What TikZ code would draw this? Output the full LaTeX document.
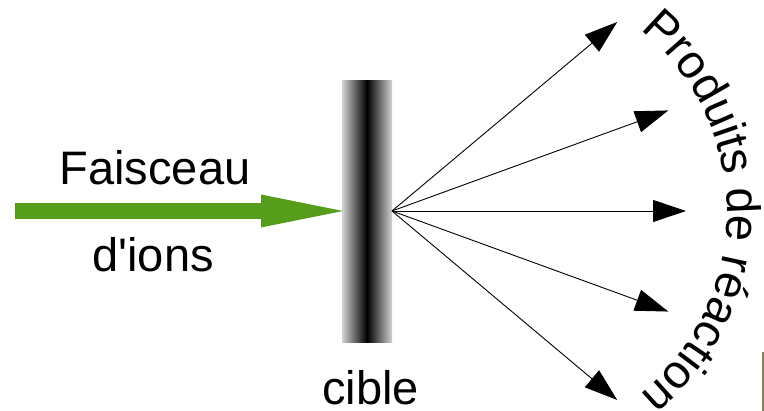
\documentclass[tikz,border=0pt]{standalone}
\usepackage{fontspec}
\setmainfont{Liberation Sans}
\newfontfamily\plainsans{Liberation Sans}
\usetikzlibrary{arrows.meta,decorations.text,calc}
\definecolor{beamgreen}{HTML}{579D1C}
\begin{document}
\begin{tikzpicture}[x=1pt,y=1pt,
  lbl/.style={inner sep=0pt,anchor=base,font=\plainsans\fontsize{47}{56}\selectfont},
  beam/.style={draw=beamgreen,line width=16pt},
  beamhead/.style={fill=beamgreen},
  product/.style={draw=black,line width=0.9pt,-{Triangle[length=33pt,width=22pt]}},
  targetbar/.style={minimum width=50pt,minimum height=262pt,inner sep=0pt,
    left color=gray!35,right color=gray!35,middle color=black}]
\useasboundingbox (0,0) rectangle (764,411);
% target
\node[targetbar] (target) at (367,199) {};
% ion beam
\coordinate (beamstart) at (15,200);
\coordinate (headbase) at (261,200);
\coordinate (beamend) at (343,200);
\draw[beam] (beamstart) -- (headbase);
\fill[beamhead] ($(headbase)+(0,16.5)$) -- (beamend) -- ($(headbase)+(0,-16.5)$) -- cycle;
% labels
\node[lbl] (faisceau) at (155,226) {Faisceau};
\node[lbl] (ions) at (153,139) {d'ions};
\node[lbl] (cible) at (370.5,6) {cible};
% products
\coordinate (o) at (392,200);
\foreach \a [count=\i] in {40,20,0,-20,-40}{
  \path (o) ++(\a:294) coordinate (p\i);
  \draw[product] (o) -- (p\i);
}
% curved label
\coordinate (arcc) at (492,199);
\path[decorate,decoration={text along path,text align=center,
   text={|\fontsize{47}{56}\selectfont|Produits de réaction}}]
   (arcc) ++(62:235) arc[start angle=62,end angle=-62,radius=235];
% edge artefact
\draw[line width=1.3pt,black!55!olive!70] (763,0) -- (763,59);
\end{tikzpicture}
\end{document}
